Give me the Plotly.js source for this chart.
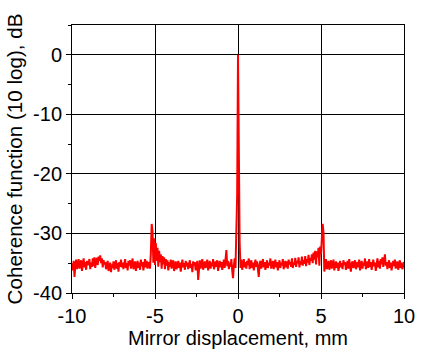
<!DOCTYPE html>
<html>
<head>
<meta charset="utf-8">
<script src="https://cdn.plot.ly/plotly-3.0.1.min.js"></script>
<style>
  html, body { margin: 0; padding: 0; background: #fff; }
  #chart { width: 422px; height: 354px; }
</style>
</head>
<body>
<div id="chart"></div>
<script>
// Sampling of the displacement axis (mm)
const X_START = -10;
const X_STEP = 0.05;

// Coherence function, dB (10 log), sampled every 0.05 mm from -10 to 10 mm
const coherenceLeft = [
  -35.0, -36.2, -34.6, -37.3, -35.4, -34.4, -36.0, -35.1, -34.3, -35.9,
  -35.2, -34.5, -36.3, -35.0, -34.2, -35.7, -34.8, -36.1, -34.6, -35.3,
  -35.0, -34.3, -36.0, -34.9, -35.6, -34.2, -35.5, -34.0, -35.8, -34.6,
  -34.1, -35.3, -33.9, -34.6, -33.7, -35.0, -34.2, -35.7, -34.5, -35.2,
  -34.8, -36.0, -35.1, -34.6, -36.3, -35.4, -34.9, -36.5, -35.2, -35.8,
  -34.7, -36.1, -35.3, -34.5, -35.9, -35.0, -36.4, -34.8, -35.6, -34.4,
  -35.7, -34.9, -36.0, -35.2, -34.3, -35.8, -35.0, -36.2, -34.6, -35.4,
  -34.5, -35.9, -35.1, -34.2, -36.0, -35.3, -34.7, -36.3, -35.0, -34.6,
  -35.8, -34.9, -36.1, -34.4, -35.5, -34.8, -36.2, -35.0, -34.3, -35.7,
  -34.6, -35.9, -34.8, -35.4
];
const coherenceLeftEcho = [
  -35.9, -33.2, -28.4, -29.6, -34.9, -30.8, -35.3, -31.6, -34.6, -32.4,
  -35.6, -32.9, -34.8, -33.5, -35.9, -33.8
];
const coherenceInnerLeft = [
  -35.2, -34.0, -36.0, -34.3, -35.4, -34.5, -36.2, -34.8, -35.6, -34.4,
  -35.9, -35.0, -34.5, -36.3, -35.1, -34.7, -36.0, -35.3, -34.6, -35.8,
  -34.9, -36.4, -35.2, -34.4, -35.7, -35.0, -36.1, -34.6, -35.5, -34.9,
  -36.0, -35.3, -34.5, -35.8, -35.1, -36.5, -34.7, -35.4, -34.8, -36.2,
  -35.0, -34.6, -37.8, -35.3, -34.5, -35.9, -35.1, -34.3, -36.1, -35.4,
  -34.7, -35.8, -35.0, -34.4, -36.2, -35.2, -34.6, -35.9, -34.9, -35.5,
  -34.3, -36.0, -35.3, -34.7, -35.6, -34.5, -36.3, -35.0, -34.6, -35.7,
  -34.8, -36.1, -35.2, -34.4, -35.8, -34.0, -32.8, -35.5, -34.6, -36.0,
  -34.9, -35.6, -34.3, -36.2, -37.5, -35.4, -34.2, -35.8, -31.0, -23.5
];
const coherenceCentre = [0.0];
const coherenceInnerRight = [
  -24.5, -31.5, -35.8, -34.4, -36.1, -35.0, -34.3, -35.7, -34.8,
  -35.9, -34.6, -35.3, -34.2, -36.0, -35.1, -34.5, -35.8, -34.9, -36.2,
  -35.0, -34.4, -35.6, -34.7, -36.0, -37.3, -35.2, -34.6, -35.9, -35.0,
  -34.3, -35.7, -34.8, -36.1, -35.2, -34.5, -35.8, -34.9, -35.4, -34.2,
  -35.9, -35.1, -34.6, -36.0, -35.3, -34.4, -35.7, -34.8, -36.2, -35.0,
  -34.5, -35.8, -34.9, -35.4, -34.3, -36.0, -35.1, -34.6, -35.7, -34.7,
  -35.9, -34.4, -35.2, -34.8, -35.6, -34.2, -35.8, -34.9, -35.3, -34.1,
  -35.6, -34.6, -35.0, -34.0, -35.7, -34.7, -35.2, -33.9, -35.4, -34.5,
  -35.1, -33.8, -35.5, -34.3, -34.9, -33.6, -35.3, -34.1, -34.6, -33.5,
  -35.0, -33.2, -34.4, -32.9, -35.2, -33.0, -34.0, -32.4, -35.4, -32.2
];
const coherenceRightEcho = [
  -33.5, -30.8, -28.4, -29.8, -36.4, -35.2, -34.3, -36.0, -35.0, -34.6
];
const coherenceRight = [
  -36.1, -35.3, -34.5, -35.9, -35.0, -34.4, -36.2, -35.2, -34.7, -35.8,
  -34.9, -36.3, -35.4, -34.6, -35.7, -35.0, -36.0, -34.5, -35.3, -34.8,
  -36.1, -35.1, -34.6, -35.9, -34.3, -35.5, -36.4, -35.0, -34.7, -35.8,
  -35.2, -34.5, -36.0, -35.3, -34.8, -35.7, -34.4, -36.2, -35.1, -34.6,
  -35.9, -34.9, -35.4, -34.2, -36.0, -35.0, -34.7, -35.8, -34.3, -35.6,
  -34.8, -36.1, -35.2, -34.4, -35.5, -34.9, -36.3, -35.0, -34.2, -35.7,
  -34.6, -35.9, -34.3, -35.2, -34.0, -35.6, -34.5, -33.5, -35.4, -34.8,
  -36.0, -35.1, -34.5, -35.8, -34.9, -36.2, -35.3, -34.6, -35.5, -34.4,
  -35.9, -35.0, -34.7, -36.1, -35.2, -34.5, -35.8, -34.9, -36.0, -35.1,
  -34.8
];

const coherence = [].concat(
  coherenceLeft, coherenceLeftEcho, coherenceInnerLeft, coherenceCentre,
  coherenceInnerRight, coherenceRightEcho, coherenceRight
);

const xTickVals = [-10, -5, 0, 5, 10];
const yTickVals = [-40, -30, -20, -10, 0];

const FONT = 'Arial, "Liberation Sans", sans-serif';

const trace = {
  type: 'scatter',
  mode: 'lines',
  x0: X_START,
  dx: X_STEP,
  y: coherence,
  line: { color: '#ff0000', width: 2 },
  hoverinfo: 'skip'
};

const axisCommon = {
  showline: true,
  mirror: true,
  linecolor: '#000',
  linewidth: 1,
  showgrid: true,
  gridcolor: '#000',
  gridwidth: 1,
  zeroline: false,
  ticks: 'outside',
  ticklen: 5,
  tickwidth: 1,
  tickcolor: '#000',
  tickfont: { family: FONT, size: 20, color: '#000' }
};

const layout = {
  width: 422,
  height: 354,
  margin: { l: 72, r: 18, t: 25, b: 61 },
  paper_bgcolor: '#fff',
  plot_bgcolor: '#fff',
  showlegend: false,
  font: { family: FONT, color: '#000' },
  xaxis: Object.assign({}, axisCommon, {
    range: [-10, 10],
    tickvals: xTickVals,
    ticktext: xTickVals.map(String),
    minor: { dtick: 2.5, tick0: 0, ticks: 'outside', ticklen: 3, tickcolor: '#000', showgrid: false },
    title: { text: 'Mirror displacement, mm', font: { family: FONT, size: 20, color: '#000' }, standoff: 4 }
  }),
  yaxis: Object.assign({}, axisCommon, {
    range: [-40, 5],
    tickvals: yTickVals,
    ticktext: yTickVals.map(String),
    minor: { dtick: 5, tick0: 0, ticks: 'outside', ticklen: 3, tickcolor: '#000', showgrid: false },
    title: { text: 'Coherence function (10 log), dB', font: { family: FONT, size: 20.6, color: '#000' }, standoff: 4 }
  })
};

Plotly.newPlot('chart', [trace], layout, { staticPlot: true, displayModeBar: false });
</script>
</body>
</html>
